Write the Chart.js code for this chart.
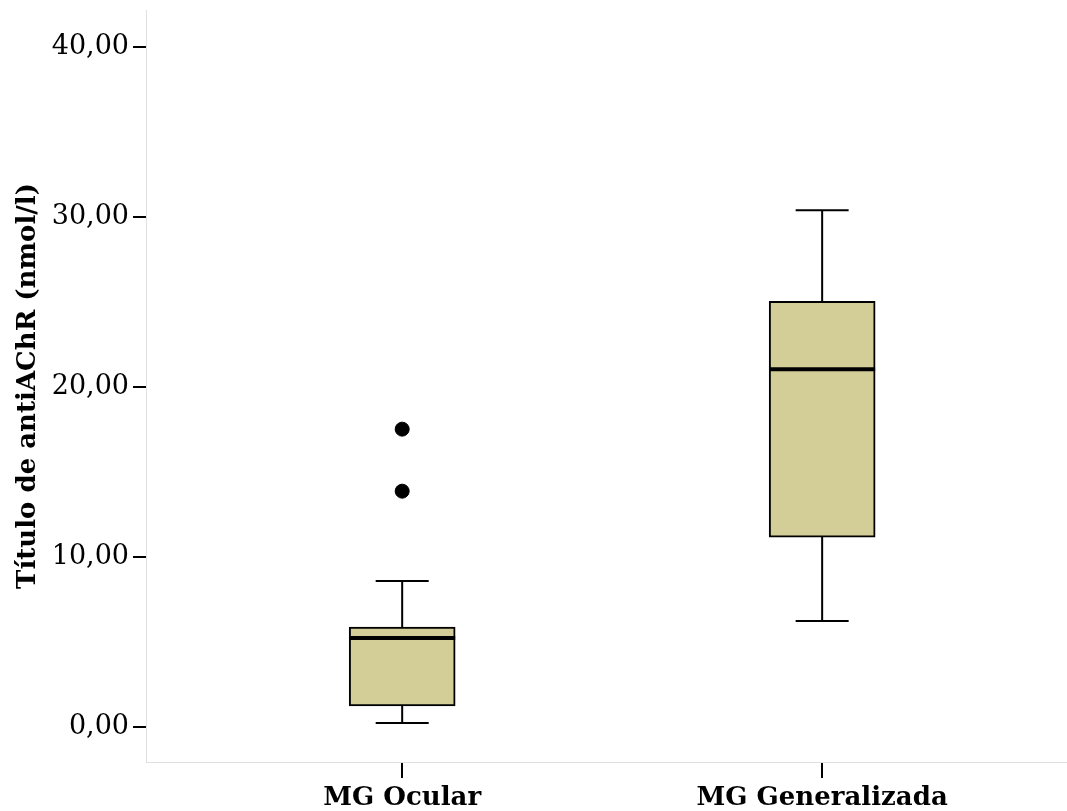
<!DOCTYPE html>
<html>
<head>
<meta charset="utf-8">
<script src="https://cdn.jsdelivr.net/npm/chart.js@4.4.0/dist/chart.umd.min.js"></script>
<style>
  body { margin: 0; background: #fff; overflow: hidden; }
  canvas { display: block; }
</style>
</head>
<body>
<!-- a little wider than the window: the outlier dots make Chart.js keep 8px free on the right -->
<canvas id="box" width="1075" height="811"></canvas>
<script>
// Box plot data
const categories = ['MG Ocular', 'MG Generalizada'];
const whiskerLow = [0.24, 6.24];
const q1 = [1.24, 11.18];
const median = [5.24, 21.06];
const q3 = [5.88, 25.06];
const whiskerHigh = [8.59, 30.41];
const outliers = [[17.53, 13.88], []];
const yTicks = [0, 10, 20, 30, 40];

const FONT = "'DejaVu Serif', serif";

// whiskers and median lines, placed with the chart's own scales
const boxLines = {
  id: 'boxLines',
  afterDatasetsDraw(chart) {
    const ctx = chart.ctx;
    const x = chart.scales.x, y = chart.scales.y;
    const bars = chart.getDatasetMeta(0).data;
    ctx.save();
    ctx.strokeStyle = '#000';
    categories.forEach((c, i) => {
      const cx = x.getPixelForValue(i + 1);
      const half = bars[i].width / 2;
      const cap = half / 2;
      ctx.lineWidth = 2;
      ctx.beginPath();
      ctx.moveTo(cx, y.getPixelForValue(q3[i]));
      ctx.lineTo(cx, y.getPixelForValue(whiskerHigh[i]));
      ctx.moveTo(cx, y.getPixelForValue(q1[i]));
      ctx.lineTo(cx, y.getPixelForValue(whiskerLow[i]));
      ctx.moveTo(cx - cap, y.getPixelForValue(whiskerHigh[i]));
      ctx.lineTo(cx + cap, y.getPixelForValue(whiskerHigh[i]));
      ctx.moveTo(cx - cap, y.getPixelForValue(whiskerLow[i]));
      ctx.lineTo(cx + cap, y.getPixelForValue(whiskerLow[i]));
      ctx.stroke();
      ctx.lineWidth = 4;
      ctx.beginPath();
      ctx.moveTo(cx - half, y.getPixelForValue(median[i]));
      ctx.lineTo(cx + half, y.getPixelForValue(median[i]));
      ctx.stroke();
    });
    ctx.restore();
  }
};

const outlierPoints = [];
outliers.forEach((list, i) => list.forEach(v => outlierPoints.push({ x: i + 1, y: v })));

new Chart(document.getElementById('box').getContext('2d'), {
  type: 'bar',
  data: {
    datasets: [{
      label: 'box',
      data: categories.map((c, i) => ({ x: i + 1, y: [q1[i], q3[i]] })),
      backgroundColor: '#d3ce98',
      borderColor: '#000',
      borderWidth: 2,
      borderSkipped: false,
      barThickness: 106
    }, {
      type: 'scatter',
      label: 'outliers',
      data: outlierPoints,
      backgroundColor: '#000',
      borderColor: '#000',
      pointRadius: 7
    }]
  },
  options: {
    responsive: false,
    animation: false,
    devicePixelRatio: 1,
    layout: { padding: { top: 10, right: 0, left: 0, bottom: 0 } },
    plugins: { legend: { display: false }, tooltip: { enabled: false } },
    scales: {
      x: {
        type: 'linear',
        min: 0.39,
        max: 2.583,
        offset: false,
        afterBuildTicks: s => { s.ticks = categories.map((c, i) => ({ value: i + 1 })); },
        afterFit: s => { s.height = 49; s.paddingLeft = 0; s.paddingRight = 0; },
        grid: { offset: false, drawOnChartArea: false, color: '#000', tickLength: 16, lineWidth: 2 },
        border: { color: '#e0e0e0', width: 1 },
        ticks: {
          color: '#000',
          padding: 5,
          maxRotation: 0,
          font: { family: FONT, size: 26, weight: 'bold' },
          callback: v => categories[v - 1]
        }
      },
      y: {
        min: -2.06,
        max: 42.2,
        afterBuildTicks: s => { s.ticks = yTicks.map(v => ({ value: v })); },
        afterFit: s => { s.width = 146; s.paddingTop = 0; s.paddingBottom = 0; },
        grid: { drawOnChartArea: false, color: '#000', tickLength: 13, lineWidth: 2 },
        border: { color: '#e0e0e0', width: 1 },
        ticks: {
          color: '#000',
          padding: 4,
          font: { family: FONT, size: 27 },
          callback: v => v.toFixed(2).replace('.', ',')
        },
        title: {
          display: true,
          text: 'Título de antiAChR (nmol/l)',
          color: '#000',
          padding: { top: 13, bottom: 0 },
          font: { family: FONT, size: 26, weight: 'bold' }
        }
      }
    }
  },
  plugins: [boxLines]
});
</script>
</body>
</html>
